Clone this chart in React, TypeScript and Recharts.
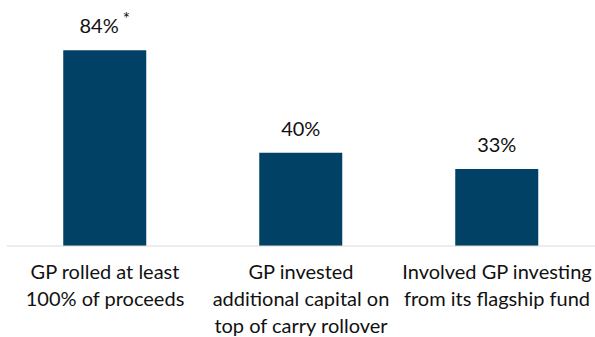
import { BarChart, Bar, XAxis, YAxis, LabelList } from "recharts";

const categories = [
    "GP rolled at least\n100% of proceeds",
    "GP invested\nadditional capital on\ntop of carry rollover",
    "Involved GP investing\nfrom its flagship fund",
];
const values = [84, 40, 33];
const notes = ["*", "", ""];

const BAR_COLOR = "#004165";
const TEXT_COLOR = "#111";
const FONT = "Lato, 'Open Sans', sans-serif";

const data = categories.map((c, i) => ({ name: c, value: values[i], note: notes[i] }));

function CategoryTick(props: any) {
    const { x, y, payload } = props;
    const lines: string[] = String(payload.value).split("\n");
    return (
        <text x={x} y={y} textAnchor="middle" fill={TEXT_COLOR} fontSize={20} fontFamily={FONT}>
            {lines.map((line, i) => (
                <tspan key={i} x={x} dy={i === 0 ? 25 : 27}>{line}</tspan>
            ))}
        </text>
    );
}

function ValueLabel(props: any) {
    const { x, y, width, index } = props;
    const note = notes[index];
    const cx = x + width / 2;
    return (
        <text x={cx} y={y - 17} textAnchor="middle" fill={TEXT_COLOR} fontSize={20} fontFamily={FONT}>
            {values[index] + "%"}
            {note ? <tspan dx={4} dy={-8} fontSize={17}>{note}</tspan> : null}
        </text>
    );
}

export default function App() {
    return (
        <div style={{ position: "absolute", left: 0, top: 0, background: "#fff" }}>
            <BarChart width={595} height={337} data={data}
                margin={{ top: 13, right: 0, left: 7, bottom: 0 }}
                barCategoryGap="28.7%">
                <XAxis dataKey="name" height={91} interval={0}
                    axisLine={{ stroke: "#d9d9d9", strokeWidth: 1 }}
                    tickLine={false}
                    tick={<CategoryTick />} />
                <YAxis hide domain={[0, 100]} />
                <Bar dataKey="value" fill={BAR_COLOR} isAnimationActive={false}>
                    <LabelList dataKey="value" content={<ValueLabel />} />
                </Bar>
            </BarChart>
        </div>
    );
}
